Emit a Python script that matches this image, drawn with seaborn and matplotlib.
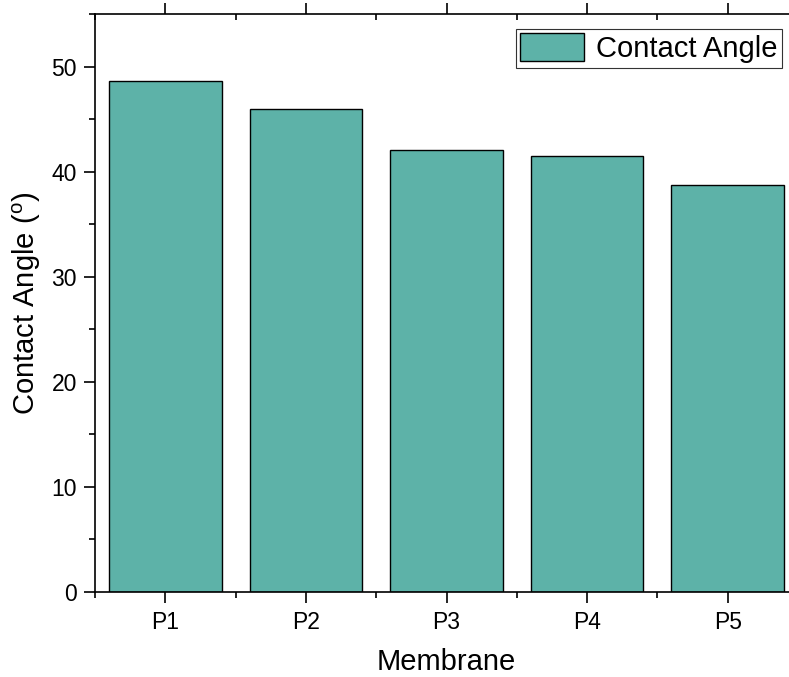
import matplotlib
matplotlib.use("Agg")
import matplotlib.pyplot as plt
import seaborn as sns
import numpy as np
from matplotlib.ticker import MultipleLocator, FixedLocator

categories = ["P1", "P2", "P3", "P4", "P5"]
values = [48.6, 46.0, 42.1, 41.5, 38.7]
series_name = "Contact Angle"
y_ticks = [0, 10, 20, 30, 40, 50]

sns.set_style("ticks")
plt.rcParams['font.family'] = ['Liberation Sans', 'DejaVu Sans']
plt.rcParams['mathtext.fontset'] = 'custom'
plt.rcParams['mathtext.rm'] = 'Liberation Sans'
plt.rcParams['mathtext.it'] = 'Liberation Sans:italic'
for k in ['text.color', 'axes.labelcolor', 'xtick.color', 'ytick.color', 'axes.edgecolor']:
    plt.rcParams[k] = 'black'

fig = plt.figure(figsize=(7.89, 6.77), dpi=100)
ax = fig.add_axes([95/789, 85/677, 703/789, 578/677])

sns.barplot(x=categories, y=values, color="#5DB2A8", saturation=1, width=0.8,
            edgecolor="black", linewidth=1.0, label=series_name, ax=ax)

ax.set_xlim(-0.5, 4.5)
ax.set_ylim(0, 55)
ax.set_yticks(y_ticks)
ax.yaxis.set_minor_locator(MultipleLocator(5))
ax.xaxis.set_minor_locator(FixedLocator(np.arange(-0.5, 5, 1.0)))

for s in ax.spines.values():
    s.set_linewidth(1.2)
    s.set_color("black")

ax.tick_params(axis='both', which='major', length=8, width=1.2, labelsize=16.5, color='black',
               labelcolor='black')
ax.tick_params(axis='both', which='minor', length=4.2, width=1.2, color='black')
ax.tick_params(axis='x', which='both', top=True)
ax.tick_params(axis='y', which='both', right=True)
for t in ax.xaxis.get_major_ticks() + ax.xaxis.get_minor_ticks():
    t.tick1line.set_marker(3)  # bottom: outward (down)
    t.tick2line.set_marker(3)  # top: inward (down)
for t in ax.yaxis.get_major_ticks() + ax.yaxis.get_minor_ticks():
    t.tick1line.set_marker(0)  # left: outward
    t.tick2line.set_marker(0)  # right: inward
ax.tick_params(axis='x', which='major', pad=6)
ax.tick_params(axis='y', which='major', pad=5)

ax.set_xlabel("Membrane", fontsize=21, labelpad=10)
ax.set_ylabel("Contact Angle ($^{\\rm o}$)", fontsize=21, labelpad=6)

leg = ax.legend(loc="upper right", bbox_to_anchor=(0.977, 0.974), borderaxespad=0,
                fontsize=21, frameon=True, fancybox=False, edgecolor="#333333",
                handlelength=2.2, handleheight=1.1, handletextpad=0.4,
                borderpad=0.15)
leg.get_frame().set_linewidth(0.8)
leg.get_frame().set_alpha(1)

fig.savefig("out.png", dpi=100)
